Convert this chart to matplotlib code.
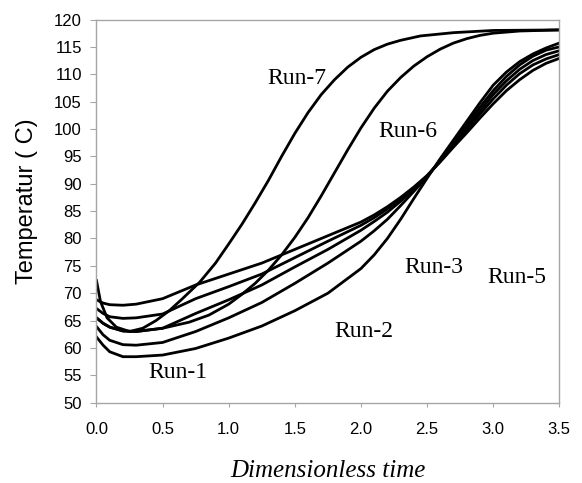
import matplotlib
matplotlib.use("Agg")
import matplotlib.pyplot as plt

# bundle runs share one time grid
t_b = [0, 0.05, 0.1, 0.2, 0.3, 0.5, 0.75, 1.0, 1.25, 1.5, 1.75, 2.0, 2.1, 2.2,
       2.3, 2.4, 2.5, 2.6, 2.7, 2.8, 2.9, 3.0, 3.1, 3.2, 3.3, 3.4, 3.5]
run_a = [68.8, 68.2, 67.9, 67.8, 68.0, 69.0, 71.5, 73.5, 75.5, 78.0, 80.5,
         83.0, 84.3, 85.8, 87.5, 89.4, 91.5, 94.0, 96.7, 99.3, 102.0, 104.6,
         107.0, 109.0, 110.7, 112.0, 112.9]
run_b = [67.2, 66.3, 65.7, 65.4, 65.5, 66.2, 69.0, 71.2, 73.5, 76.5, 79.5,
         82.4, 83.8, 85.4, 87.2, 89.2, 91.4, 94.1, 96.9, 99.8, 102.7, 105.5,
         108.0, 110.1, 111.7, 112.8, 113.6]
run_c = [65.5, 64.5, 63.8, 63.1, 63.0, 63.6, 66.3, 68.8, 71.5, 74.8, 78.0,
         81.5, 83.1, 84.8, 86.8, 89.0, 91.4, 94.2, 97.1, 100.2, 103.3, 106.3,
         108.8, 110.9, 112.5, 113.6, 114.3]
run_d = [63.9, 62.4, 61.4, 60.6, 60.5, 61.0, 63.0, 65.5, 68.3, 71.8, 75.5,
         79.5, 81.4, 83.5, 86.0, 88.6, 91.3, 94.3, 97.5, 100.8, 104.0, 107.0,
         109.6, 111.7, 113.3, 114.4, 115.0]
run_e = [62.0, 60.5, 59.3, 58.4, 58.4, 58.7, 59.9, 61.8, 64.0, 66.8, 70.0,
         74.5, 77.0, 80.0, 83.5, 87.3, 91.0, 94.6, 98.0, 101.4, 104.8, 108.0,
         110.4, 112.3, 113.7, 114.8, 115.7]

t6 = [0, 0.05, 0.1, 0.2, 0.3, 0.5, 0.7, 0.85, 1.0, 1.1, 1.2, 1.3, 1.4, 1.5,
      1.6, 1.7, 1.8, 1.9, 2.0, 2.1, 2.2, 2.3, 2.4, 2.5, 2.6, 2.7, 2.8, 2.9,
      3.0, 3.2, 3.5]
run6 = [65.5, 64.5, 63.8, 63.1, 63.0, 63.6, 64.7, 66.0, 68.0, 69.8, 71.8,
        74.2, 77.0, 80.2, 83.8, 87.8, 92.0, 96.2, 100.2, 103.8, 106.9, 109.4,
        111.5, 113.2, 114.6, 115.7, 116.5, 117.1, 117.5, 117.9, 118.1]

t7 = [0, 0.03, 0.08, 0.15, 0.25, 0.35, 0.45, 0.55, 0.65, 0.78, 0.9, 1.0, 1.1,
      1.2, 1.3, 1.4, 1.5, 1.6, 1.7, 1.8, 1.9, 2.0, 2.1, 2.2, 2.3, 2.45, 2.7,
      3.0, 3.5]
run7 = [72.3, 68.5, 65.5, 63.8, 63.0, 63.6, 65.0, 66.8, 69.0, 72.0, 75.5,
        79.0, 82.6, 86.5, 90.6, 95.0, 99.2, 103.0, 106.3, 109.0, 111.3, 113.1,
        114.5, 115.5, 116.2, 117.0, 117.6, 118.0, 118.1]

labels = ["Run-7", "Run-6", "Run-3", "Run-5", "Run-2", "Run-1"]
label_x = [1.515, 2.356, 2.55, 3.18, 2.02, 0.615]
label_y = [108.2, 98.5, 73.7, 71.9, 62.0, 54.5]

fig = plt.figure(figsize=(5.82, 4.83), dpi=100)
ax = fig.add_axes([0.1658, 0.1663, 0.7952, 0.7933])

for ys in [run_a, run_b, run_c, run_d, run_e]:
    ax.plot(t_b, ys, color="black", lw=2.0)
ax.plot(t6, run6, color="black", lw=2.0)
ax.plot(t7, run7, color="black", lw=2.0)

for lab, x, y in zip(labels, label_x, label_y):
    ax.text(x, y, lab, ha="center", va="baseline", fontsize=17,
            family="Liberation Serif")

ax.set_xlim(0, 3.5)
ax.set_ylim(50, 120)
ax.set_xticks([0, 0.5, 1.0, 1.5, 2.0, 2.5, 3.0, 3.5])
ax.set_xticklabels(["0.0", "0.5", "1.0", "1.5", "2.0", "2.5", "3.0", "3.5"])
ax.set_yticks(range(50, 121, 5))

for s in ax.spines.values():
    s.set_color("#a6a6a6")
    s.set_linewidth(1.0)
ax.tick_params(axis="both", colors="#a6a6a6", labelcolor="black",
               labelsize=12, direction="out")
ax.tick_params(axis="x", length=3, pad=11)
ax.tick_params(axis="y", length=4, pad=6.5)
for lbl in ax.get_xticklabels() + ax.get_yticklabels():
    lbl.set_family("Liberation Sans")

ax.set_ylabel("Temperatur ( C)", fontsize=17, family="Liberation Sans",
              va="center")
ax.yaxis.set_label_coords(-0.150, 0.526)
ax.set_xlabel("Dimensionless time", fontsize=18, family="Liberation Serif",
              style="italic", va="center")
ax.xaxis.set_label_coords(0.5, -0.178)

fig.savefig("out.png", dpi=100)
